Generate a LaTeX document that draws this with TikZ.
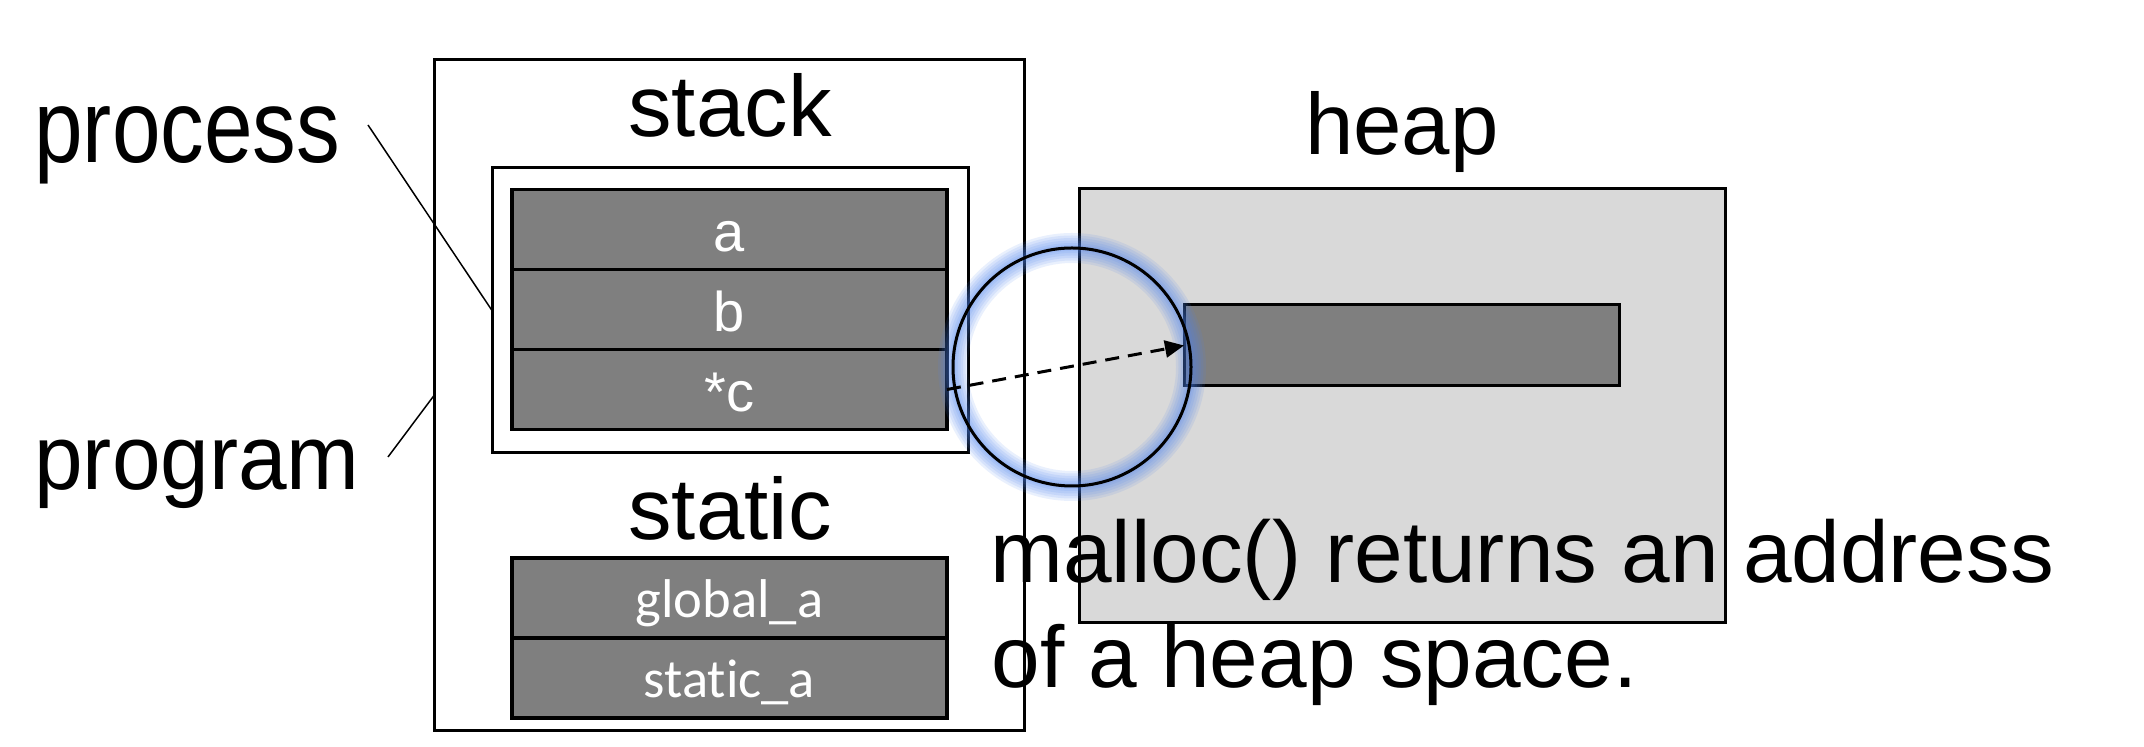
\documentclass[tikz,border=0pt]{standalone}
\usepackage{fontspec}
\setmainfont{Liberation Sans}
\newfontfamily\carlito{Carlito}[Ligatures={NoCommon}]
\usepackage{graphicx}
\usetikzlibrary{arrows.meta}
\definecolor{cellgray}{HTML}{7F7F7F}
\definecolor{heapbg}{HTML}{D9D9D9}
\definecolor{glowC}{HTML}{4F84F0}
\begin{document}
\begin{tikzpicture}[x=0.5pt,y=-0.5pt,
  box/.style={draw=black, line width=1.5pt, inner sep=0pt, outer sep=0pt},
  cellbox/.style={box, fill=cellgray, text=white, minimum width=217.5pt, minimum height=40pt, line width=1.6pt},
  arialcell/.style={cellbox, font=\fontsize{28pt}{30pt}\selectfont, text height=22.5pt, text depth=0pt},
  calcell/.style={cellbox, font=\carlito\fontsize{27.3pt}{30pt}\selectfont, text height=20pt, text depth=0pt},
  title/.style={inner sep=0pt, anchor=base, font=\fontsize{43.5pt}{52pt}\selectfont},
  side/.style={inner sep=0pt, anchor=base west},
  pointer/.style={line width=0.75pt},
  glowring/.style={glowC, opacity=0.12},
  refline/.style={line width=1.5pt, dash pattern=on 7pt off 4.5pt, -{Triangle[length=9.5pt,width=8.5pt]}}
]
\useasboundingbox (0,0) rectangle (2144,747);
\fill[white] (0,0) rectangle (2144,747);

% program and process boxes
\node[box, minimum width=295pt, minimum height=335.5pt] (program) at (729,395.5) {};
\node[box, minimum width=238pt, minimum height=142.5pt] (process) at (730,310.5) {};

% stack cells
\node[arialcell] (cellA) at (729.5,229.5) {a};
\node[arialcell] (cellB) at (729.5,309.5) {b};
\node[arialcell] (cellC) at (729.5,389.5) {*c};

% static cells
\node[calcell] (cellG) at (729.5,598) {global\_a};
\node[calcell] (cellS) at (729.5,678) {static\_a};

% heap
\node[box, fill=heapbg, minimum width=323pt, minimum height=217pt] (heap) at (1402,406) {};
\node[box, fill=cellgray, minimum width=217.5pt, minimum height=40.5pt] (block) at (1401.5,345.5) {};

% titles
\node[title] (stacklabel) at (730,137) {stack};
\node[title] (heaplabel) at (1402,155) {heap};
\node[title] (staticlabel) at (730,540) {static};

% side labels
\node[side, font=\fontsize{52pt}{60pt}\selectfont] (proclabel) at (34,163) {\scalebox{0.84}[1]{process}};
\node[side, font=\fontsize{46pt}{54pt}\selectfont] (proglabel) at (34,490) {\scalebox{0.95}[1]{program}};
\coordinate (proctip) at (368,125);
\coordinate (progtip) at (388,457);
\draw[pointer] (proctip) -- (process.west);
\draw[pointer] (progtip) -- (program.west);

% malloc text
\node[side, font=\fontsize{43.7pt}{52pt}\selectfont] (mallocA) at (990,583) {malloc() returns an address};
\node[side, font=\fontsize{43.7pt}{52pt}\selectfont] (mallocB) at (991,688) {of a heap space.};

% highlighted circle with soft glow
\coordinate (fc) at (1072,367);
\foreach \w in {15,12.5,10,7.5,5,3} {
  \draw[glowring, line width=\w pt] (fc) circle[radius=59.5pt];
}
\node[circle, draw=black, line width=1.5pt, minimum size=119pt, inner sep=0pt] (focus) at (fc) {};

% pointer arrow
\draw[refline] (cellC.east) -- (block.west);
\end{tikzpicture}
\end{document}
